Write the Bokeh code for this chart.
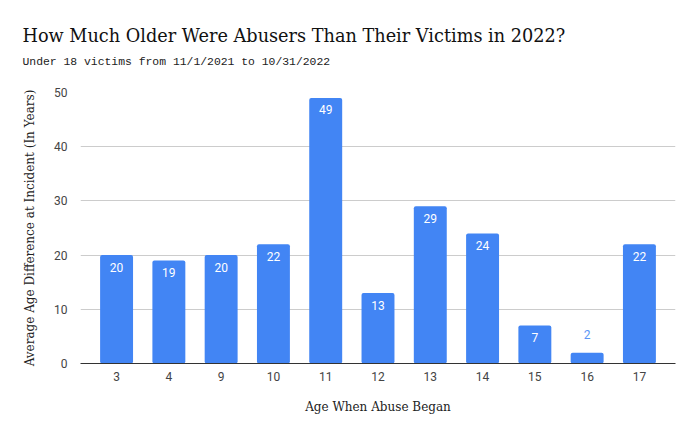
from bokeh.plotting import figure
from bokeh.models import ColumnDataSource, FactorRange, Title
from bokeh.embed import file_html
from bokeh.resources import INLINE

ages = ["3", "4", "9", "10", "11", "12", "13", "14", "15", "16", "17"]
avg_diff = [20, 19, 20, 22, 49, 13, 29, 24, 7, 2, 22]
y_ticks = [0, 10, 20, 30, 40, 50]

W, H = 681, 429
p = figure(width=W, height=H, output_backend="svg", toolbar_location=None,
           x_range=FactorRange(factors=ages, range_padding=0.19, range_padding_units="absolute"),
           y_range=(0, 50),
           min_border_left=80, min_border_right=6, min_border_top=92, min_border_bottom=66)
p.outline_line_color = None
p.background_fill_color = "white"
p.border_fill_color = "white"

src = ColumnDataSource(dict(x=ages, top=avg_diff))
p.vbar(x="x", top="top", width=0.63, source=src, fill_color="#4285F4", line_color=None,
       border_radius=2)

inside = [i for i, v in enumerate(avg_diff) if v >= 5]
outside = [i for i, v in enumerate(avg_diff) if v < 5]
src_in = ColumnDataSource(dict(x=[ages[i] for i in inside], y=[avg_diff[i] for i in inside],
                               t=[str(avg_diff[i]) for i in inside]))
src_out = ColumnDataSource(dict(x=[ages[i] for i in outside], y=[avg_diff[i] for i in outside],
                                t=[str(avg_diff[i]) for i in outside]))
p.text(x="x", y="y", text="t", source=src_in, text_color="white", text_font_size="12px",
       text_align="center", text_baseline="middle", y_offset=12, text_font={"value": "Roboto"})
p.text(x="x", y="y", text="t", source=src_out, text_color="#5B95F5", text_font_size="12px",
       text_align="center", text_baseline="middle", y_offset=-18, text_font={"value": "Roboto"})

p.xgrid.grid_line_color = None
p.ygrid.grid_line_color = "#CCCCCC"
p.ygrid.ticker = y_ticks
p.yaxis.ticker = y_ticks

for ax in (p.xaxis[0], p.yaxis[0]):
    ax.major_tick_line_color = None
    ax.minor_tick_line_color = None
    ax.major_label_text_font = "Roboto"
    ax.major_label_text_font_size = "12px"
    ax.major_label_text_color = "#444444"
    ax.axis_label_text_font = "DejaVu Serif"
    ax.axis_label_text_font_style = "normal"
    ax.axis_label_text_color = "#222222"
    ax.axis_label_text_font_size = "12px"
p.yaxis.axis_line_color = None
p.xaxis.axis_line_color = "#333333"
p.yaxis.major_label_standoff = 7
p.xaxis.major_label_standoff = 2
p.yaxis.axis_label = "Average Age Difference at Incident (In Years)"
p.xaxis.axis_label = "Age When Abuse Began"
p.yaxis.axis_label_standoff = 14
p.xaxis.axis_label_standoff = 16

# spacer between subtitle and plot frame
p.add_layout(Title(text=" ", text_font_size="1px", standoff=22), "above")
p.add_layout(Title(text="Under 18 victims from 11/1/2021 to 10/31/2022",
                   text_font="Liberation Mono", text_font_size="11.4px", text_color="#222222",
                   text_font_style="normal", align="left", offset=-58, standoff=0), "above")
p.add_layout(Title(text="How Much Older Were Abusers Than Their Victims in 2022?",
                   text_font="DejaVu Serif", text_font_size="17.7px", text_color="#111111",
                   text_font_style="normal", align="left", offset=-58, standoff=15), "above")

open("out.html", "w").write(file_html(p, INLINE))
